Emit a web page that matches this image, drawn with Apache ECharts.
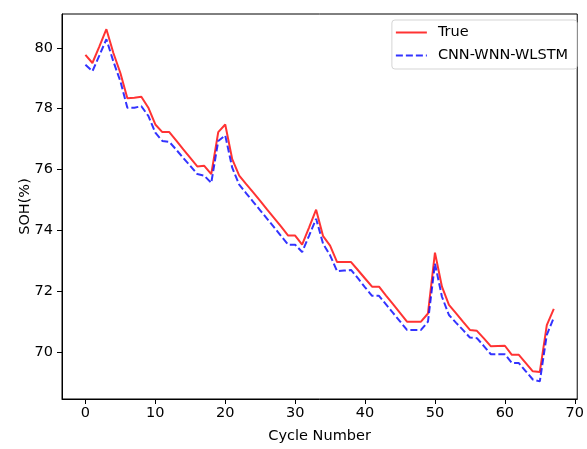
<!DOCTYPE html>
<html>
<head>
<meta charset="utf-8">
<script src="https://cdn.jsdelivr.net/npm/echarts@6/dist/echarts.min.js"></script>
<style>html,body{margin:0;padding:0;background:#fff;}#c{width:587px;height:449px;}</style>
</head>
<body>
<div id="c"></div>
<script>
const cycles = Array.from({length: 68}, (_, i) => i);
const trueSOH = [79.77,79.5,80.05,80.61,79.83,79.17,78.34,78.36,78.39,78.03,
  77.48,77.23,77.23,76.95,76.66,76.38,76.1,76.12,75.85,77.23,
  77.48,76.34,75.8,75.52,75.25,74.97,74.68,74.4,74.12,73.83,
  73.83,73.53,74.1,74.68,73.81,73.5,72.96,72.96,72.96,72.69,
  72.42,72.15,72.15,71.86,71.58,71.29,71.0,71.0,71.0,71.27,
  73.27,72.15,71.55,71.28,71.0,70.73,70.7,70.45,70.19,70.2,
  70.21,69.91,69.91,69.64,69.37,69.35,70.89,71.42];
const predSOH = [79.44,79.23,79.75,80.28,79.55,78.9,78.03,78.03,78.08,77.76,
  77.21,76.94,76.91,76.65,76.38,76.12,75.85,75.8,75.56,76.94,
  77.12,76.06,75.5,75.22,74.94,74.66,74.38,74.1,73.81,73.53,
  73.53,73.29,73.83,74.38,73.56,73.18,72.66,72.68,72.7,72.42,
  72.13,71.85,71.85,71.57,71.29,71.01,70.73,70.73,70.73,71.0,
  72.91,71.82,71.22,70.97,70.73,70.48,70.46,70.2,69.93,69.93,
  69.93,69.64,69.64,69.37,69.1,69.04,70.57,71.13];
const xTicks = [0,10,20,30,40,50,60,70];
const yTicks = [70,72,74,76,78,80];

const font = 'DejaVu Sans';
const fs = 14.5;
const chart = echarts.init(document.getElementById('c'));
chart.setOption({
  animation: false,
  backgroundColor: '#fff',
  grid: {left: 62, right: 3, top: 14, bottom: 48, show: true, borderColor: '#000', borderWidth: 1},
  xAxis: {
    type: 'value', min: -3.35, max: 70.35,
    name: 'Cycle Number', nameLocation: 'middle', nameGap: 30, nameMoveOverlap: false,
    nameTextStyle: {fontFamily: font, fontSize: fs, color: '#000'},
    axisLine: {show: true, onZero: false, lineStyle: {color: '#000'}},
    axisTick: {show: true, length: 5, inside: false, lineStyle: {color: '#000'}, customValues: xTicks},
    axisLabel: {fontFamily: font, fontSize: fs, color: '#000', margin: 7, customValues: xTicks},
    splitLine: {show: false}
  },
  yAxis: {
    type: 'value', min: 68.46, max: 81.11,
    name: 'SOH(%)', nameLocation: 'middle', nameGap: 29, nameMoveOverlap: false,
    nameTextStyle: {fontFamily: font, fontSize: fs, color: '#000'},
    axisLine: {show: true, onZero: false, lineStyle: {color: '#000'}},
    axisTick: {show: true, length: 5, inside: false, lineStyle: {color: '#000'}, customValues: yTicks},
    axisLabel: {fontFamily: font, fontSize: fs, color: '#000', margin: 9, customValues: yTicks},
    splitLine: {show: false}
  },
  legend: {
    orient: 'vertical', right: 10, top: 20,
    backgroundColor: '#fff', borderColor: '#d5d5d5', borderWidth: 1, borderRadius: 3,
    padding: [5, 9, 6, 3], itemGap: 8, itemWidth: 31, itemHeight: 14,
    itemStyle: {opacity: 0},
    textStyle: {fontFamily: font, fontSize: fs, color: '#000', padding: [0, 0, 0, 6]},
    data: ['True', 'CNN-WNN-WLSTM']
  },
  series: [
    {name: 'True', type: 'line', symbol: 'none', data: cycles.map((c, i) => [c, trueSOH[i]]),
     lineStyle: {color: 'rgba(255,0,0,0.8)', width: 2}, itemStyle: {color: 'rgba(255,0,0,0.8)'}},
    {name: 'CNN-WNN-WLSTM', type: 'line', symbol: 'none', data: cycles.map((c, i) => [c, predSOH[i]]),
     lineStyle: {color: 'rgba(0,0,255,0.8)', width: 2, type: [7, 3]}, itemStyle: {color: 'rgba(0,0,255,0.8)'}}
  ]
});
</script>
</body>
</html>
